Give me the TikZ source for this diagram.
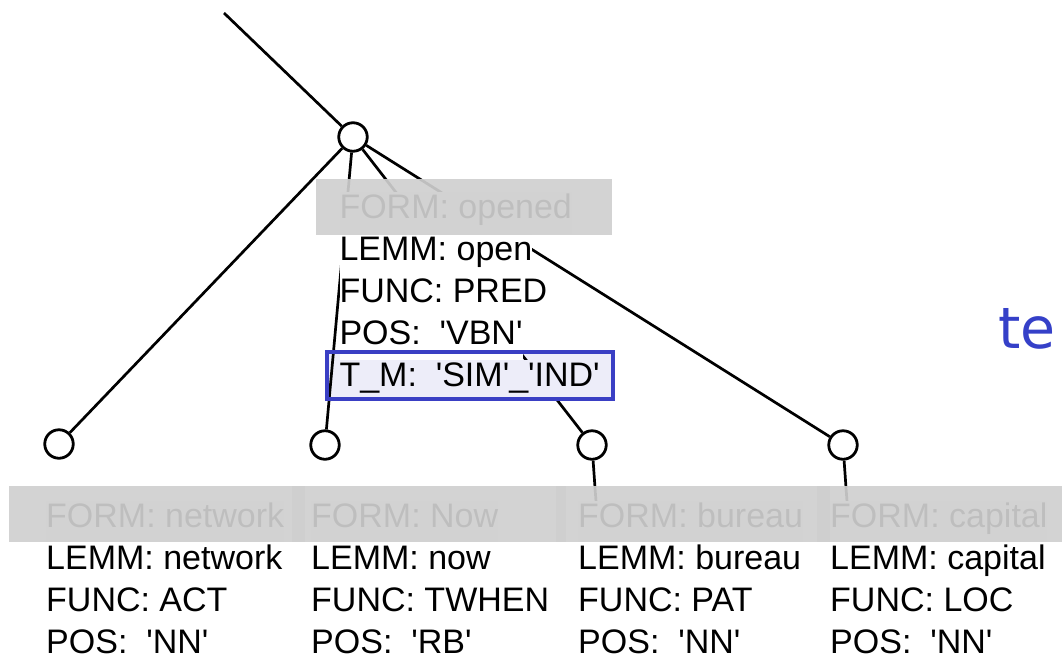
\documentclass[tikz,border=0pt]{standalone}
\usepackage{fontspec}
\setmainfont{Liberation Sans}
\newfontfamily\tefont{DejaVu Sans}
\definecolor{hlblue}{HTML}{3A3FC4}
\definecolor{hlfill}{HTML}{EDEDF9}
\definecolor{formgray}{RGB}{207,207,207}
\definecolor{tecolor}{HTML}{3540C8}
\newcommand\aq{\textquotesingle}
\begin{document}
\begin{tikzpicture}[x=1pt,y=-1pt,
  tnode/.style={circle,draw,line width=2.8pt,fill=white,minimum size=28.5pt,inner sep=0pt},
  edge/.style={line width=2.7pt},
  attr/.style={anchor=base west,inner sep=0pt,text height=26pt,text depth=16pt,
               fill=white,font=\fontsize{34}{42}\selectfont},
  formbox/.style={fill=formgray,fill opacity=0.92,draw=none}]
\useasboundingbox (0,0) rectangle (1062,659);

% highlight behind the tense/mood attribute
\fill[hlfill] (327,352) rectangle (613,399);

% tree nodes
\node[tnode] (root)    at (353,137) {};
\node[tnode] (network) at (59,444)  {};
\node[tnode] (now)     at (325,445) {};
\node[tnode] (bureau)  at (592,445) {};
\node[tnode] (capital) at (843,445) {};
\coordinate (up)    at (224,13);
\coordinate (bdrop) at (598,530);
\coordinate (cdrop) at (849,530);

% edges
\draw[edge] (up) -- (root);
\draw[edge] (root) -- (network);
\draw[edge] (root) -- (now);
\draw[edge] (root) -- (bureau);
\draw[edge] (root) -- (capital);
\draw[edge] (bureau) -- (bdrop);
\draw[edge] (capital) -- (cdrop);

% attributes of the root
\node[attr] (oform) at (339.3,218) {FORM: opened};
\node[attr] (olemm) at (339.3,260) {LEMM: open};
\node[attr] (ofunc) at (339.3,302) {FUNC: PRED};
\node[attr] (opos)  at (339.3,344) {POS:\ \ \aq VBN\aq};
\node[attr,fill=hlfill,text depth=12pt] (otm) at (339.3,386) {T\_M:\ \ \aq SIM\aq\_\aq IND\aq};
\draw[hlblue,line width=3.2pt] (327,352) rectangle (613,399);

% attributes of the dependents
\node[attr] (nform) at (46,527)  {FORM: network};
\node[attr] (nlemm) at (46,569)  {LEMM: network};
\node[attr] (nfunc) at (46,611)  {FUNC: ACT};
\node[attr] (npos)  at (46,653)  {POS:\ \ \aq NN\aq};

\node[attr] (wform) at (311,527) {FORM: Now};
\node[attr] (wlemm) at (311,569) {LEMM: now};
\node[attr] (wfunc) at (311,611) {FUNC: TWHEN};
\node[attr] (wpos)  at (311,653) {POS:\ \ \aq RB\aq};

\node[attr] (bform) at (578,527) {FORM: bureau};
\node[attr] (blemm) at (578,569) {LEMM: bureau};
\node[attr] (bfunc) at (578,611) {FUNC: PAT};
\node[attr] (bpos)  at (578,653) {POS:\ \ \aq NN\aq};

\node[attr] (cform) at (830,527) {FORM: capital};
\node[attr] (clemm) at (830,569) {LEMM: capital};
\node[attr] (cfunc) at (830,611) {FUNC: LOC};
\node[attr] (cpos)  at (830,653) {POS:\ \ \aq NN\aq};

% translucent bands over the surface forms
\fill[formbox] (316,179) rectangle (612,235);
\fill[formbox] (9,486)   rectangle (305,542);
\fill[formbox] (292,486) rectangle (566,542);
\fill[formbox] (556,486) rectangle (830,542);
\fill[formbox] (817,486) rectangle (1062,542);

\node[anchor=base west,inner sep=0pt,text=tecolor,font=\tefont\fontsize{57}{62}\selectfont] (te) at (998,348) {te};
\end{tikzpicture}
\end{document}
